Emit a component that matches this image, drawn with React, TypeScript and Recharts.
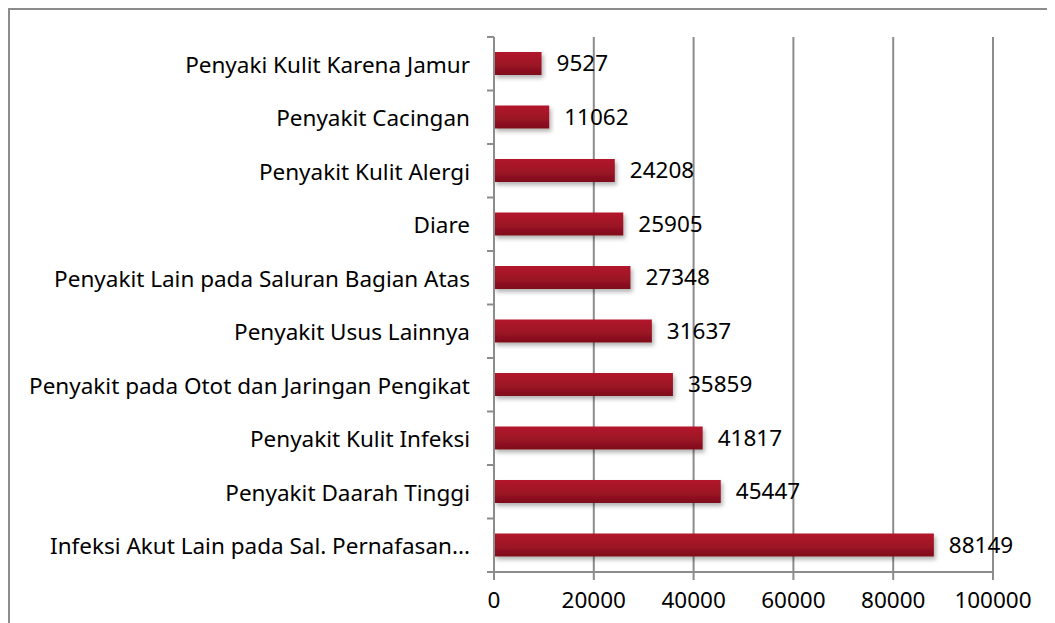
import React from "react";
import { BarChart, Bar, XAxis, YAxis, CartesianGrid, LabelList } from "recharts";

const categories = [
  "Penyaki Kulit Karena Jamur",
  "Penyakit Cacingan",
  "Penyakit Kulit Alergi",
  "Diare",
  "Penyakit Lain pada Saluran Bagian Atas",
  "Penyakit Usus Lainnya",
  "Penyakit pada Otot dan Jaringan Pengikat",
  "Penyakit Kulit Infeksi",
  "Penyakit Daarah Tinggi",
  "Infeksi Akut Lain pada Sal. Pernafasan...",
];
const values = [9527, 11062, 24208, 25905, 27348, 31637, 35859, 41817, 45447, 88149];
const xTicks = [0, 20000, 40000, 60000, 80000, 100000];

const data = categories.map((name, i) => ({ name, value: values[i] }));

const W = 1047;
const H = 615;
const AXIS_W = 486;
const TOP = 29;
const BOTTOM = 51;
const BAND = (H - TOP - BOTTOM) / categories.length;
const GRID = "#8c8c8c";
const FONT = "'Noto Sans', sans-serif";
const FS = 22.5;

function CatTick(props: any) {
  const { y, payload, index } = props;
  return (
    <g>
      <text x={AXIS_W - 24} y={y + 1} dy="0.35em" textAnchor="end" fontSize={FS} fill="#000" fontFamily={FONT}>
        {payload.value}
      </text>
      <line x1={AXIS_W - 7} x2={AXIS_W} y1={y - BAND / 2} y2={y - BAND / 2} stroke={GRID} strokeWidth={2} />
      {index === categories.length - 1 && (
        <line x1={AXIS_W - 7} x2={AXIS_W} y1={y + BAND / 2} y2={y + BAND / 2} stroke={GRID} strokeWidth={2} />
      )}
    </g>
  );
}

export default function App() {
  return (
    <div style={{ position: "relative", width: W, height: H, overflow: "hidden", background: "#fff" }}>
      <div
        style={{
          position: "absolute",
          left: 0,
          top: 0,
          width: 1200,
          height: 800,
          border: `2px solid ${GRID}`,
        }}
      />
      <div style={{ position: "absolute", left: 0, top: 0 }}>
        <BarChart
          width={W}
          height={H}
          data={data}
          layout="vertical"
          margin={{ top: TOP, right: 62, left: 0, bottom: 21 }}
          barCategoryGap="0%"
        >
          <defs>
            <linearGradient id="barFill" x1="0" y1="0" x2="0" y2="1">
              <stop offset="0%" stopColor="#b3172c" />
              <stop offset="55%" stopColor="#9c1325" />
              <stop offset="100%" stopColor="#7e0e1c" />
            </linearGradient>
            <filter id="barShadow" x="-5%" y="-20%" width="115%" height="160%">
              <feDropShadow dx="2" dy="3" stdDeviation="2" floodColor="#000" floodOpacity="0.3" />
            </filter>
          </defs>
          <CartesianGrid vertical horizontal={false} stroke={GRID} strokeWidth={2} />
          <XAxis
            type="number"
            domain={[0, 100000]}
            ticks={xTicks}
            interval={0}
            height={30}
            stroke={GRID}
            strokeWidth={2}
            tickSize={8}
            tickMargin={12}
            tick={{ fill: "#000", fontSize: FS, fontFamily: FONT }}
          />
          <YAxis
            type="category"
            dataKey="name"
            width={AXIS_W}
            stroke={GRID}
            strokeWidth={2}
            tickLine={false}
            interval={0}
            tick={<CatTick />}
          />
          <Bar dataKey="value" fill="url(#barFill)" barSize={23} isAnimationActive={false} filter="url(#barShadow)">
            <LabelList dataKey="value" position="right" offset={15} fill="#000" fontSize={FS} fontFamily={FONT} />
          </Bar>
        </BarChart>
      </div>
    </div>
  );
}
